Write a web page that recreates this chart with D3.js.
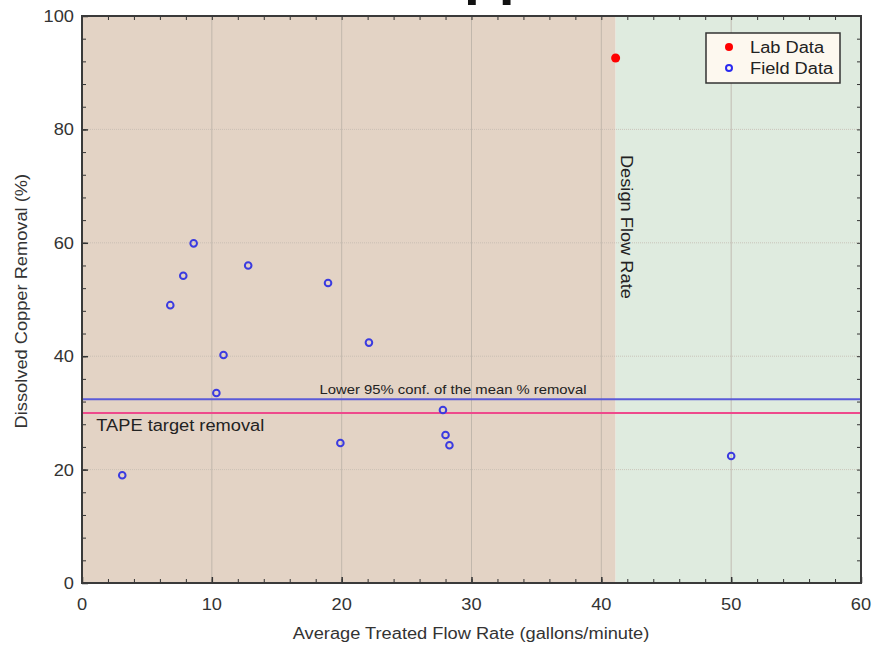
<!DOCTYPE html>
<html>
<head>
<meta charset="utf-8">
<script src="https://cdn.jsdelivr.net/npm/d3@7"></script>
<style>
  body { margin: 0; background: #fff; }
  svg { font-family: Arial, "Liberation Sans", sans-serif; }
</style>
</head>
<body>
<div id="chart"></div>
<script>
// Field measurements: flow rate (gpm) and removal (%)
const fieldFlow    = [3.1, 6.8, 7.8, 8.6, 10.9, 10.35, 12.8, 18.95, 19.9, 22.1, 27.8, 28.0, 28.3, 50.0];
const fieldRemoval = [19.0, 49.0, 54.2, 59.9, 40.2, 33.5, 56.0, 52.9, 24.7, 42.4, 30.5, 26.1, 24.3, 22.4];
// Lab measurement
const labFlow    = [41.1];
const labRemoval = [92.6];
// Reference values
const designFlow = 41.1;
const lowerConf  = 32.4;
const tapeTarget = 30.0;
// Axis ticks
const xTicks = [0, 10, 20, 30, 40, 50, 60];
const yTicks = [0, 20, 40, 60, 80, 100];

// Chart dimensions
let w = 878, h = 646;
let pLeft = 82, pRight = 861, pTop = 16, pBottom = 583;
let stretch = 1.14; // text in the original is a little wider than Arial

let svg = d3.select("#chart").append("svg").attr("width", w).attr("height", h);

let xScale = d3.scaleLinear().domain([0, 60]).range([pLeft, pRight]);
let yScale = d3.scaleLinear().domain([0, 100]).range([pBottom, pTop]);

// Clipped title remnant at very top
svg.append("text").text("pp").attr("x", 464).attr("y", -7)
  .attr("font-size", 57).attr("font-weight", "bold").attr("fill", "#111");

// Background regions
svg.append("rect").attr("x", xScale(0)).attr("y", yScale(100))
  .attr("width", xScale(designFlow) - xScale(0)).attr("height", yScale(0) - yScale(100))
  .attr("fill", "#e3d3c5");
svg.append("rect").attr("x", xScale(designFlow)).attr("y", yScale(100))
  .attr("width", xScale(60) - xScale(designFlow)).attr("height", yScale(0) - yScale(100))
  .attr("fill", "#dfebdf");

// Grid lines
svg.append("g").selectAll("line").data(xTicks.slice(1, -1)).enter().append("line")
  .attr("x1", d => xScale(d)).attr("x2", d => xScale(d))
  .attr("y1", yScale(100)).attr("y2", yScale(0))
  .attr("stroke", "#b9b0a6").attr("stroke-width", 0.8);
svg.append("g").selectAll("line").data(yTicks.slice(1, -1)).enter().append("line")
  .attr("x1", xScale(0)).attr("x2", xScale(60))
  .attr("y1", d => yScale(d)).attr("y2", d => yScale(d))
  .attr("stroke", "#c4bab0").attr("stroke-width", 0.8).attr("stroke-dasharray", "1,1");

// Reference lines
svg.append("line").attr("x1", xScale(0)).attr("x2", xScale(60))
  .attr("y1", yScale(lowerConf)).attr("y2", yScale(lowerConf))
  .attr("stroke", "#5a5ad8").attr("stroke-width", 2);
svg.append("line").attr("x1", xScale(0)).attr("x2", xScale(60))
  .attr("y1", yScale(tapeTarget)).attr("y2", yScale(tapeTarget))
  .attr("stroke", "#ee4a8c").attr("stroke-width", 2);

svg.append("text").text("Lower 95% conf. of the mean % removal").classed("wide", true)
  .attr("x", xScale(18.3)).attr("y", yScale(lowerConf) - 5)
  .attr("font-size", 13).attr("fill", "#222");
svg.append("text").text("TAPE target removal").classed("wide", true)
  .attr("x", xScale(1.1)).attr("y", yScale(tapeTarget)).attr("dy", 18)
  .attr("font-size", 16).attr("fill", "#222");

// Design flow rate label
svg.append("text").text("Design Flow Rate").classed("wide", true)
  .attr("transform", "translate(" + (xScale(designFlow) + 5) + "," + yScale(75.5) + ") rotate(90)")
  .attr("font-size", 16).attr("fill", "#222");

// Axes (ticks inward, minor ticks)
let xAxisB = d3.axisBottom(xScale).tickValues(d3.range(0, 61, 2)).tickSize(-4).tickFormat("");
let xAxisT = d3.axisTop(xScale).tickValues(d3.range(0, 61, 2)).tickSize(-4).tickFormat("");
let yAxisL = d3.axisLeft(yScale).tickValues(d3.range(0, 101, 4)).tickSize(-4).tickFormat("");
let yAxisR = d3.axisRight(yScale).tickValues(d3.range(0, 101, 4)).tickSize(-4).tickFormat("");
[[xAxisB, "translate(0," + pBottom + ")"], [xAxisT, "translate(0," + pTop + ")"],
 [yAxisL, "translate(" + pLeft + ",0)"], [yAxisR, "translate(" + pRight + ",0)"]].forEach(a => {
  let g = svg.append("g").attr("transform", a[1]).call(a[0]);
  g.select(".domain").remove();
  g.selectAll("line").attr("stroke", "#333").attr("stroke-width", 1);
});
// Major ticks a bit longer
svg.append("g").attr("transform", "translate(0," + pBottom + ")")
  .call(d3.axisBottom(xScale).tickValues(xTicks).tickSize(-6).tickFormat(""))
  .call(g => g.select(".domain").remove()).selectAll("line").attr("stroke", "#333").attr("stroke-width", 1.5);
svg.append("g").attr("transform", "translate(" + pLeft + ",0)")
  .call(d3.axisLeft(yScale).tickValues(yTicks).tickSize(-6).tickFormat(""))
  .call(g => g.select(".domain").remove()).selectAll("line").attr("stroke", "#333").attr("stroke-width", 1.5);

// Frame
svg.append("rect").attr("x", pLeft).attr("y", pTop).attr("width", pRight - pLeft).attr("height", pBottom - pTop)
  .attr("fill", "none").attr("stroke", "#3a3a3a").attr("stroke-width", 2);

// Tick labels
svg.append("g").selectAll("text").data(xTicks).enter().append("text").classed("wide", true)
  .attr("x", d => xScale(d)).attr("y", pBottom + 27).attr("text-anchor", "middle")
  .attr("font-size", 16).attr("fill", "#333").text(d => d);
svg.append("g").selectAll("text").data(yTicks).enter().append("text").classed("wide", true)
  .attr("x", pLeft - 8).attr("y", d => yScale(d) + 6).attr("text-anchor", "end")
  .attr("font-size", 16).attr("fill", "#333").text(d => d);

// Axis titles
svg.append("text").text("Average Treated Flow Rate (gallons/minute)").classed("wide", true)
  .attr("x", 471).attr("y", 639).attr("text-anchor", "middle")
  .attr("font-size", 16).attr("fill", "#333");
svg.append("text").text("Dissolved Copper Removal (%)").classed("wide", true)
  .attr("transform", "translate(27," + yScale(49.7) + ") rotate(-90)").attr("text-anchor", "middle")
  .attr("font-size", 16).attr("fill", "#333");

// Field data points
svg.append("g").selectAll("circle").data(d3.range(fieldFlow.length)).enter().append("circle")
  .attr("cx", i => xScale(fieldFlow[i])).attr("cy", i => yScale(fieldRemoval[i])).attr("r", 3.3)
  .attr("fill", "none").attr("stroke", "#3b3be0").attr("stroke-width", 2);

// Lab data points
svg.append("g").selectAll("circle").data(d3.range(labFlow.length)).enter().append("circle")
  .attr("cx", i => xScale(labFlow[i])).attr("cy", i => yScale(labRemoval[i])).attr("r", 4.5)
  .attr("fill", "#ff0000");

// Legend
let lg = svg.append("g").attr("transform", "translate(706,33)");
lg.append("rect").attr("width", 134).attr("height", 50).attr("fill", "#fdf8ef")
  .attr("stroke", "#333").attr("stroke-width", 1.5);
lg.append("circle").attr("cx", 23).attr("cy", 14).attr("r", 4).attr("fill", "#ff0000");
lg.append("circle").attr("cx", 23).attr("cy", 35).attr("r", 3).attr("fill", "none")
  .attr("stroke", "#2a2af0").attr("stroke-width", 2);
lg.append("text").text("Lab Data").classed("wide", true).attr("x", 44).attr("y", 20).attr("font-size", 16).attr("fill", "#222");
lg.append("text").text("Field Data").classed("wide", true).attr("x", 44).attr("y", 41).attr("font-size", 16).attr("fill", "#222");

// Widen texts to match the original's proportions
svg.selectAll("text.wide").each(function() {
  let len = this.getComputedTextLength();
  d3.select(this).attr("textLength", len * stretch).attr("lengthAdjust", "spacingAndGlyphs");
});
</script>
</body>
</html>
